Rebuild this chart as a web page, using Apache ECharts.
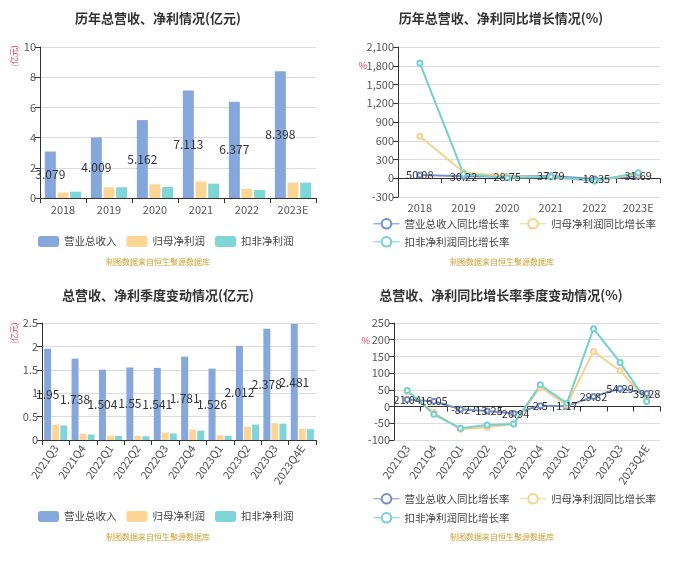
<!DOCTYPE html>
<html><head><meta charset="utf-8">
<script src="https://cdn.jsdelivr.net/npm/echarts@6/dist/echarts.min.js"></script>
<style>html,body{margin:0;padding:0;background:#fff}#c{width:700px;height:563px}</style>
</head><body><div id="c"></div>
<script>
const years = ['2018','2019','2020','2021','2022','2023E'];
const revenue = [3.079,4.009,5.162,7.113,6.377,8.398];
const netProfit = [0.36,0.71,0.91,1.09,0.60,1.02];
const deductedProfit = [0.42,0.71,0.73,0.95,0.53,1.02];
const revenueYoY = [50.08,30.22,28.75,37.79,-10.35,31.69];
const netProfitYoY = [671,95,28,20,-45,70];
const deductedYoY = [1843,70,5,25,-45,90];

const quarters = ['2021Q3','2021Q4','2022Q1','2022Q2','2022Q3','2022Q4','2023Q1','2023Q2','2023Q3','2023Q4E'];
const qRevenue = [1.95,1.738,1.504,1.55,1.541,1.781,1.526,2.012,2.378,2.481];
const qNet = [0.33,0.135,0.09,0.09,0.16,0.22,0.10,0.285,0.36,0.24];
const qDeducted = [0.31,0.115,0.085,0.08,0.14,0.20,0.09,0.33,0.35,0.23];
const qRevYoY = [21.04,16.05,-8.2,-13.25,-20.94,2.5,1.17,29.82,54.29,39.28];
const qNetYoY = [45,-18,-68,-62,-52,58,5,165,107,20];
const qDedYoY = [48,-23,-65,-55,-52,65,10,233,132,15];

const titles = ['历年总营收、净利情况(亿元)','历年总营收、净利同比增长情况(%)','总营收、净利季度变动情况(亿元)','总营收、净利同比增长率季度变动情况(%)'];
const barNames = ['营业总收入','归母净利润','扣非净利润'];
const lineNames = ['营业总收入同比增长率','归母净利润同比增长率','扣非净利润同比增长率'];
const footer = '制图数据来自恒生聚源数据库';

const FONT = '"Noto Sans CJK SC", "Microsoft YaHei", sans-serif';
const C_BLUE = '#86a7db', C_ORANGE = '#fdd594', C_TEAL = '#7fd6d8';
const L_BLUE = '#7390c9', L_ORANGE = '#fbd08c', L_TEAL = '#74d1d1';

const chart = echarts.init(document.getElementById('c'));

function txt(x,y,text,font,fill,rot){
  return {type:'text', x:x, y:y, rotation:rot||0, silent:true,
    style:{text:text, font:font, fill:fill, textAlign:'center', textVerticalAlign:'middle', align:'center', verticalAlign:'middle'}};
}
const axisLabelStyle = {color:'#555', fontSize:11, fontFamily:FONT};
const axisLine = {show:true, lineStyle:{color:'#333'}};
const split = {show:true, lineStyle:{color:'#dcdcdc'}};

function yAx(gi, min, max, interval){
  return {type:'value', gridIndex:gi, min:min, max:max, interval:interval,
    axisLine:axisLine, axisTick:{show:true, length:5, lineStyle:{color:'#333'}},
    axisLabel:Object.assign({margin:4}, axisLabelStyle), splitLine:split};
}
function xAx(gi, data, extra){
  return Object.assign({type:'category', gridIndex:gi, data:data,
    axisLine:Object.assign({onZero:true}, axisLine),
    axisTick:{show:true, length:5, lineStyle:{color:'#333'}},
    axisLabel:Object.assign({}, axisLabelStyle)}, extra||{});
}
function barSeries(gi, name, data, color, bw, withLabel){
  return {type:'bar', name:name, xAxisIndex:gi, yAxisIndex:gi, data:data, barWidth:bw, barGap:'15%',
    itemStyle:{color:color},
    label:{show:!!withLabel, position:'inside', color:'#333', fontSize:12, fontFamily:FONT},
    emphasis:{disabled:true}};
}
function lineSeries(gi, name, data, color, withLabel){
  return {type:'line', name:name, xAxisIndex:gi, yAxisIndex:gi, data:data,
    symbol:'emptyCircle', symbolSize:5, lineStyle:{color:color, width:2},
    itemStyle:{color:color},
    label:{show:!!withLabel, position:'inside', color:'#333', fontSize:11, fontFamily:FONT},
    emphasis:{disabled:true}};
}
const legBase = {textStyle:{color:'#444', fontSize:10.5, fontFamily:FONT}, itemGap:10, selectedMode:false};
const lineLeg = {itemWidth:26, itemHeight:12, itemStyle:{borderWidth:1}, lineStyle:{width:1}};

chart.setOption({
  animation:false,
  textStyle:{fontFamily:FONT},
  grid:[
    {left:40, top:47, width:276, height:151},
    {left:398, top:47, width:262, height:150},
    {left:42, top:323, width:274, height:117},
    {left:394, top:323, width:266, height:117}
  ],
  xAxis:[
    xAx(0, years, {axisLabel:Object.assign({margin:6}, axisLabelStyle)}),
    xAx(1, years, {axisLabel:Object.assign({margin:5}, axisLabelStyle)}),
    xAx(2, quarters, {axisLabel:Object.assign({margin:6, rotate:55, interval:0}, axisLabelStyle)}),
    xAx(3, quarters, {axisLabel:Object.assign({margin:6, rotate:55, interval:0}, axisLabelStyle)})
  ],
  yAxis:[
    yAx(0, 0, 10, 2),
    yAx(1, -300, 2100, 300),
    yAx(2, 0, 2.5, 0.5),
    yAx(3, -100, 250, 50)
  ],
  legend:[
    Object.assign({left:33, top:231, itemWidth:21, itemHeight:11, data:barNames}, legBase),
    Object.assign({left:368, top:213, itemGap:12, data:lineNames.slice(0,2)}, legBase, lineLeg),
    Object.assign({left:368, top:231, data:lineNames.slice(2)}, legBase, lineLeg),
    Object.assign({left:33, top:506, itemWidth:21, itemHeight:11, data:barNames}, legBase),
    Object.assign({left:368, top:488, itemGap:12, data:lineNames.slice(0,2)}, legBase, lineLeg),
    Object.assign({left:368, top:507, data:lineNames.slice(2)}, legBase, lineLeg)
  ],
  graphic:[
    txt(158, 18, titles[0], 'bold 13px '+FONT, '#333'),
    txt(501, 18, titles[1], 'bold 13px '+FONT, '#333'),
    txt(158, 295, titles[2], 'bold 13px '+FONT, '#333'),
    txt(501, 295, titles[3], 'bold 13px '+FONT, '#333'),
    txt(158, 262, footer, '8px '+FONT, '#cf9f30'),
    txt(502, 262, footer, '8px '+FONT, '#cf9f30'),
    txt(158, 537, footer, '8px '+FONT, '#cf9f30'),
    txt(502, 537, footer, '8px '+FONT, '#cf9f30'),
    txt(14, 56, '(亿元)', '8px '+FONT, '#e8364a', Math.PI/2),
    txt(14, 333, '(亿元)', '8px '+FONT, '#e8364a', Math.PI/2),
    txt(363, 66, '%', '9px '+FONT, '#e8364a'),
    txt(366, 341, '%', '9px '+FONT, '#e8364a')
  ],
  series:[
    barSeries(0, barNames[0], revenue, C_BLUE, 11, true),
    barSeries(0, barNames[1], netProfit, C_ORANGE, 11),
    barSeries(0, barNames[2], deductedProfit, C_TEAL, 11),
    lineSeries(1, lineNames[0], revenueYoY, L_BLUE, true),
    lineSeries(1, lineNames[1], netProfitYoY, L_ORANGE),
    lineSeries(1, lineNames[2], deductedYoY, L_TEAL),
    barSeries(2, barNames[0], qRevenue, C_BLUE, 7, true),
    barSeries(2, barNames[1], qNet, C_ORANGE, 7),
    barSeries(2, barNames[2], qDeducted, C_TEAL, 7),
    lineSeries(3, lineNames[0], qRevYoY, L_BLUE, true),
    lineSeries(3, lineNames[1], qNetYoY, L_ORANGE),
    lineSeries(3, lineNames[2], qDedYoY, L_TEAL)
  ]
});
</script></body></html>
